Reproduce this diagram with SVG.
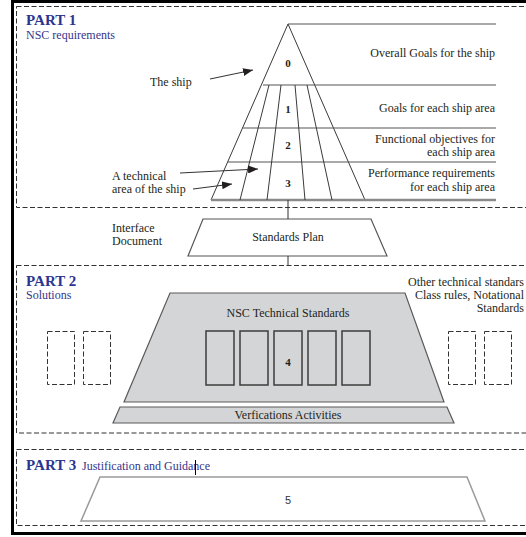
<svg xmlns="http://www.w3.org/2000/svg" width="526" height="537" viewBox="0 0 526 537">
  <defs>
    <marker id="arrow" viewBox="0 0 10 8" refX="10" refY="4" markerWidth="10" markerHeight="8" markerUnits="userSpaceOnUse" orient="auto">
      <path d="M0,0 L10,4 L0,8 z" fill="#231f20"/>
    </marker>
    <style>
      .t { font-family: "Liberation Serif", "Times New Roman", serif; font-size: 12px; fill: #231f20; }
      .num { font-family: "Liberation Serif", "Times New Roman", serif; font-size: 11px; font-weight: bold; fill: #231f20; }
      .part { font-family: "Liberation Serif", "Times New Roman", serif; font-size: 15px; font-weight: bold; fill: #2b3590; }
      .sub { font-family: "Liberation Serif", "Times New Roman", serif; font-size: 12px; fill: #35358a; }
      .dash { fill: none; stroke: #333; stroke-width: 1; stroke-dasharray: 5 2.5; }
      .grid { fill: none; stroke: #3a3a3a; stroke-width: 1; }
      .rule { fill: none; stroke: #555; stroke-width: 1.2; }
      .arrow { fill: none; stroke: #333; stroke-width: 1; marker-end: url(#arrow); }
      .link { fill: none; stroke: #333; stroke-width: 1; }
      .grey { fill: #d4d5d7; stroke: #5a5a5a; stroke-width: 1.2; }
      .block { fill: #d4d5d7; stroke: #3d3d3d; stroke-width: 1.5; }
    </style>
  </defs>

  <rect width="526" height="537" fill="#ffffff"/>

  <!-- outer page frame -->
  <rect x="12.5" y="1.5" width="530" height="532" fill="none" stroke="#000" stroke-width="3"/>

  <!-- section frames -->
  <g id="sections">
    <rect class="dash" x="16.5" y="6.5" width="520" height="201"/>
    <rect class="dash" x="16.5" y="265.5" width="520" height="167.5"/>
    <rect class="dash" x="16.5" y="449.5" width="520" height="76"/>
  </g>

  <!-- PART 1: requirement pyramid -->
  <g id="part1-title">
    <text class="part" x="26" y="25">PART 1</text>
    <text class="sub" x="26" y="38.5">NSC requirements</text>
  </g>

  <g id="pyramid">
    <polygon points="288,24 365,200 211,200" fill="#fff" stroke="#3a3a3a" stroke-width="1"/>
    <!-- level rules extending to the labels -->
    <line class="rule" x1="288" y1="24" x2="496" y2="24"/>
    <line class="rule" x1="263" y1="85" x2="496" y2="85"/>
    <line class="rule" x1="242.5" y1="128" x2="496" y2="128"/>
    <line class="rule" x1="227.6" y1="162" x2="496" y2="162"/>
    <line x1="211" y1="200" x2="496" y2="200" stroke="#8a8a8a" stroke-width="2.5"/>
    <!-- ship areas -->
    <line class="grid" x1="269" y1="85" x2="240" y2="200"/>
    <line class="grid" x1="281" y1="85" x2="267" y2="200"/>
    <line class="grid" x1="295" y1="85" x2="305" y2="200"/>
    <line class="grid" x1="307" y1="85" x2="332" y2="200"/>
    <text class="num" x="288" y="67" text-anchor="middle">0</text>
    <text class="num" x="288" y="113" text-anchor="middle">1</text>
    <text class="num" x="288" y="149" text-anchor="middle">2</text>
    <text class="num" x="288" y="187" text-anchor="middle">3</text>
  </g>

  <g id="level-labels" text-anchor="end">
    <text class="t" x="495" y="57">Overall Goals for the ship</text>
    <text class="t" x="495" y="112">Goals for each ship area</text>
    <text class="t" x="495" y="143">Functional objectives for</text>
    <text class="t" x="495" y="156">each ship area</text>
    <text class="t" x="495" y="177">Performance requirements</text>
    <text class="t" x="495" y="191">for each ship area</text>
  </g>

  <g id="ship-label">
    <text class="t" x="150" y="86">The ship</text>
  </g>
  <g id="area-label">
    <text class="t" x="112" y="180">A technical</text>
    <text class="t" x="112" y="193">area of the ship</text>
  </g>

  <!-- interface between parts -->
  <g id="interface-label">
    <text class="t" x="112" y="232">Interface</text>
    <text class="t" x="112" y="245">Document</text>
  </g>
  <g id="standards-plan">
    <polygon points="203,219 371,219 387,256 188,256" fill="#fff" stroke="#555" stroke-width="1.2"/>
    <text class="t" x="288" y="241" text-anchor="middle">Standards Plan</text>
  </g>

  <!-- PART 2: solutions -->
  <g id="part2-title">
    <text class="part" x="26" y="286">PART 2</text>
    <text class="sub" x="26" y="299">Solutions</text>
  </g>
  <g id="other-standards" text-anchor="end">
    <text class="t" x="524" y="286">Other technical standars</text>
    <text class="t" x="524" y="299">Class rules, Notational</text>
    <text class="t" x="524" y="312">Standards</text>
  </g>
  <g id="other-boxes">
    <rect class="dash" x="47.5" y="331.5" width="27" height="53"/>
    <rect class="dash" x="83.5" y="331.5" width="27" height="53"/>
    <rect class="dash" x="448.5" y="331.5" width="27" height="53"/>
    <rect class="dash" x="484.5" y="331.5" width="27" height="53"/>
  </g>
  <g id="nsc-standards">
    <polygon class="grey" points="170,293 405,293 444,402 124,402"/>
    <text class="t" x="288" y="317" text-anchor="middle">NSC Technical Standards</text>
    <rect class="block" x="206" y="331" width="28" height="54"/>
    <rect class="block" x="240" y="331" width="28" height="54"/>
    <rect class="block" x="274" y="331" width="28" height="54"/>
    <rect class="block" x="308" y="331" width="28" height="54"/>
    <rect class="block" x="342" y="331" width="28" height="54"/>
    <text class="num" x="288" y="366" text-anchor="middle">4</text>
  </g>
  <g id="verification">
    <polygon class="grey" points="120,407 447,407 454,423 113,423"/>
    <text class="t" x="288" y="419" text-anchor="middle" font-size="11.5">Verfications Activities</text>
  </g>

  <!-- PART 3: justification -->
  <g id="part3-title">
    <text class="part" x="26" y="470">PART 3</text>
    <text class="sub" x="82" y="470">Justification and Guidance</text>
    <line x1="195.5" y1="460" x2="195.5" y2="475" stroke="#000" stroke-width="1"/>
  </g>
  <g id="justification">
    <polygon points="100,477 467,477 485,521 81,521" fill="#fff" stroke="#9a9a9a" stroke-width="1.5"/>
    <text x="288" y="504" text-anchor="middle" font-family="Liberation Sans, Arial, sans-serif" font-size="11" fill="#333">5</text>
  </g>

  <!-- connectors -->
  <g id="connectors">
    <line class="arrow" x1="210" y1="79" x2="253" y2="70"/>
    <line class="arrow" x1="180" y1="173" x2="258" y2="169"/>
    <line class="arrow" x1="193" y1="189" x2="232" y2="184"/>
    <line class="link" x1="288" y1="200" x2="288" y2="219"/>
    <line class="link" x1="288" y1="256" x2="288" y2="266"/>
  </g>
</svg>
